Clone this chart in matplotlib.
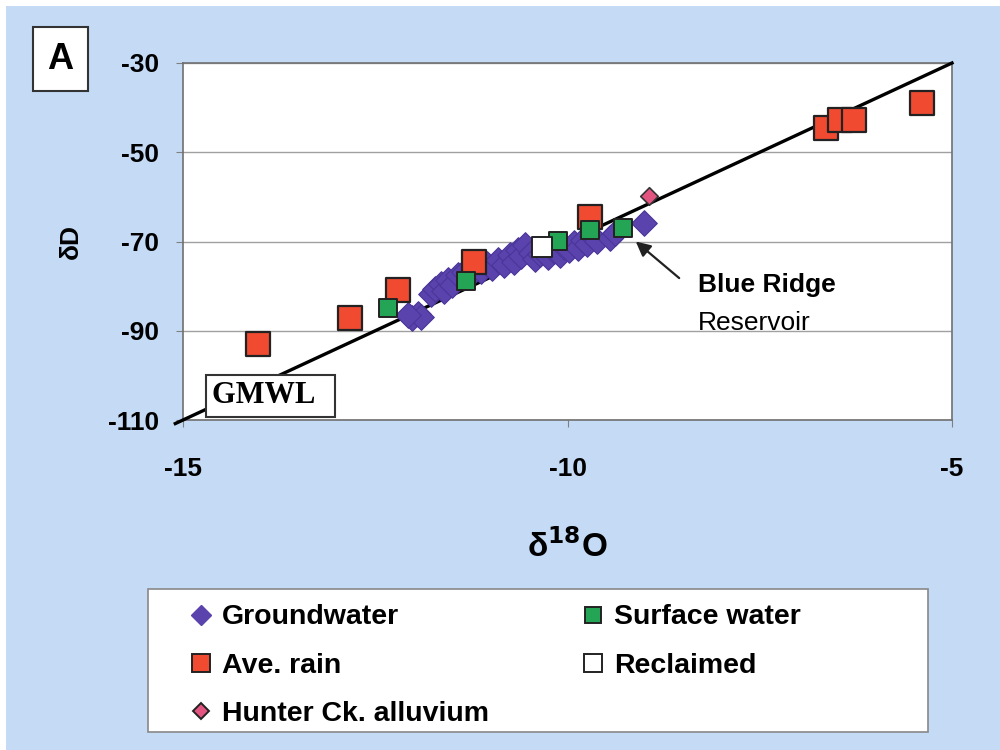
import numpy as np
import matplotlib.pyplot as plt
from matplotlib.lines import Line2D
from matplotlib.patches import Rectangle

# data (delta 18O, delta D)
gw_x = [-12.02, -11.95, -11.90, -12.08, -11.78, -11.72, -11.65, -11.60, -11.55, -11.50,
        -11.42, -11.35, -11.28, -11.20, -11.12, -11.05, -10.98, -10.90, -10.82, -10.75,
        -10.70, -10.64, -10.60, -10.55, -10.48, -10.42, -10.36, -10.25, -10.18, -10.10,
        -10.04, -9.98, -9.92, -9.86, -9.80, -9.74, -9.68, -9.62, -9.45, -9.38, -9.00]
gw_y = [-87.2, -86.3, -87.0, -86.5, -81.8, -80.6, -79.5, -81.0, -78.6, -79.8,
        -77.6, -76.8, -77.8, -75.8, -76.6, -75.0, -76.0, -74.2, -75.2, -73.0,
        -74.5, -71.8, -73.2, -70.8, -72.6, -74.0, -72.8, -73.4, -72.2, -73.0,
        -71.2, -72.0, -70.4, -71.4, -69.6, -70.6, -68.8, -69.8, -69.2, -68.0, -65.9]

sw_x = [-12.33, -11.32, -10.12, -9.71, -9.28]
sw_y = [-84.8, -78.8, -69.8, -67.4, -67.0]

rain_x = [-14.02, -12.83, -12.20, -11.22, -9.71, -6.64, -6.46, -6.27, -5.39]
rain_y = [-92.9, -87.1, -80.8, -74.7, -64.5, -44.6, -42.8, -42.8, -39.0]

recl_x = [-10.33]
recl_y = [-71.3]

hunter_x = [-8.94]
hunter_y = [-59.8]

# Global Meteoric Water Line: dD = 8 * d18O + 10
gmwl_x = np.array([-15.1, -5.0])
gmwl_y = 8 * gmwl_x + 10

xticks = [-15, -10, -5]
yticks = [-110, -90, -70, -50, -30]

plt.rcParams['font.family'] = ['Liberation Sans', 'DejaVu Sans']
plt.rcParams['font.weight'] = 'bold'

fig = plt.figure(figsize=(10, 7.5), dpi=100)
fig.patch.set_facecolor('white')
# blue panel background
fig.patches.append(Rectangle((0.006, 0.0), 0.994, 0.992, transform=fig.transFigure,
                             facecolor='#c4daf5', edgecolor='none', zorder=-10))

ax = fig.add_axes([0.183, 0.44, 0.769, 0.476])
ax.set_facecolor('white')
ax.set_xlim(-15, -5)
ax.set_ylim(-110, -30)
ax.set_xticks(xticks)
ax.set_yticks(yticks)
ax.set_xticklabels([str(t) for t in xticks], fontsize=19, fontweight='bold')
ax.set_yticklabels([str(t) for t in yticks], fontsize=19, fontweight='bold')
ax.tick_params(axis='both', direction='out', length=5, color='#808080', pad=12)
ax.tick_params(axis='x', pad=22)
for s in ax.spines.values():
    s.set_color('#707070')
    s.set_linewidth(1.2)
ax.grid(axis='y', color='#a0a0a0', linewidth=1.0)
ax.set_axisbelow(True)

ax.plot(gmwl_x, gmwl_y, color='black', linewidth=2.4, clip_on=False, zorder=3)

ax.scatter(gw_x, gw_y, marker='D', s=170, color='#5a43ad', edgecolors='#4a3598',
           linewidths=0.8, zorder=4)
ax.scatter(rain_x, rain_y, marker='s', s=300, color='#f04a30', edgecolors='#222222',
           linewidths=1.6, zorder=5)
ax.scatter(sw_x, sw_y, marker='s', s=150, color='#24a555', edgecolors='#222222',
           linewidths=1.4, zorder=6)
ax.scatter(recl_x, recl_y, marker='s', s=220, color='white', edgecolors='#222222',
           linewidths=1.4, zorder=6)
ax.scatter(hunter_x, hunter_y, marker='D', s=80, color='#e25580', edgecolors='#333333',
           linewidths=1.2, zorder=6)

ax.set_ylabel('δD', fontsize=19, fontweight='bold', labelpad=18)
ax.set_xlabel('δ$^{\\mathbf{18}}$O', fontsize=24, fontweight='bold', labelpad=34)

# GMWL label box
ax.text(-14.62, -104.6, 'GMWL  ', family=['Liberation Serif', 'DejaVu Serif'], fontsize=22,
        fontweight='bold', va='center', ha='left', zorder=7,
        bbox=dict(boxstyle='square,pad=0.2', facecolor='white', edgecolor='#333333',
                  linewidth=1.5))

# Blue Ridge Reservoir arrow
ax.annotate('', xy=(-9.14, -69.6), xytext=(-8.52, -78.6),
            arrowprops=dict(arrowstyle='-|>', color='#222222', lw=1.6, mutation_scale=22),
            zorder=7)
ax.text(-8.3, -79.8, 'Blue Ridge', fontsize=19, fontweight='bold', ha='left', va='center')
ax.text(-8.3, -88.3, 'Reservoir', fontsize=19, fontweight='normal', ha='left', va='center')

# panel letter
fig.text(0.0605, 0.921, 'A', fontsize=26, fontweight='bold', ha='center', va='center',
         bbox=dict(boxstyle='square,pad=0.4', facecolor='white', edgecolor='#333333',
                   linewidth=1.5))

# legend frame
fig.patches.append(Rectangle((0.148, 0.024), 0.78, 0.191, transform=fig.transFigure,
                             facecolor='white', edgecolor='#888888', linewidth=1.2, zorder=1))

handles = [
    Line2D([], [], marker='D', linestyle='none', markersize=10, color='#5a43ad'),
    Line2D([], [], marker='s', linestyle='none', markersize=13, markerfacecolor='#f04a30',
           markeredgecolor='#222222', markeredgewidth=1.4),
    Line2D([], [], marker='D', linestyle='none', markersize=8, markerfacecolor='#e25580',
           markeredgecolor='#222222', markeredgewidth=1.4),
    Line2D([], [], marker='s', linestyle='none', markersize=11, markerfacecolor='#24a555',
           markeredgecolor='#222222', markeredgewidth=1.4),
    Line2D([], [], marker='s', linestyle='none', markersize=13, markerfacecolor='white',
           markeredgecolor='#222222', markeredgewidth=1.4),
]
labels = ['Groundwater', 'Ave. rain', 'Hunter Ck. alluvium', 'Surface water', 'Reclaimed']
leg = fig.legend(handles, labels, ncol=2, loc='upper left', bbox_to_anchor=(0.188, 0.194),
                 frameon=False,
                 prop={'family': 'Liberation Sans', 'weight': 'bold', 'size': 20.5},
                 handletextpad=0.3, handlelength=0.9, columnspacing=3.2,
                 labelspacing=0.78, borderpad=0, borderaxespad=0)
leg.set_zorder(2)

fig.savefig('out.png', dpi=100, facecolor=fig.get_facecolor())
